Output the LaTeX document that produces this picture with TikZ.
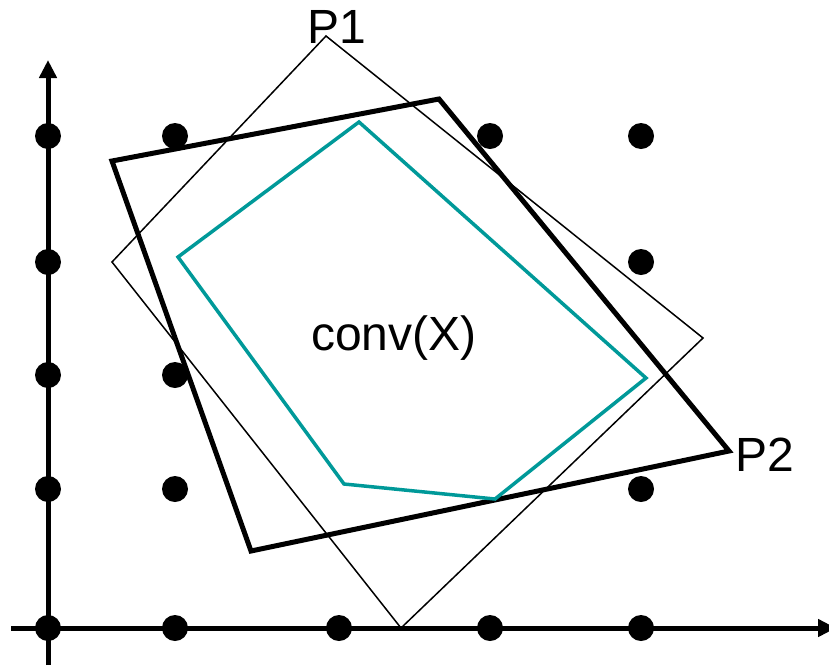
\documentclass[tikz,border=0pt]{standalone}
\usepackage{fontspec}
\setmainfont{Liberation Sans}
\usetikzlibrary{arrows.meta}
\definecolor{tealline}{RGB}{0,153,153}
\begin{document}
\begin{tikzpicture}[x=1pt,y=-1pt,
  axis/.style={line width=5pt,-{Triangle[length=18pt,width=17pt]}},
  dot/.style={circle,fill=black,inner sep=0pt,minimum size=26pt},
  thinpoly/.style={line width=1.5pt,line join=miter},
  thickpoly/.style={line width=5pt,line join=miter},
  convpoly/.style={line width=3.5pt,draw=tealline,line join=miter},
  lab/.style={inner sep=0pt,font=\fontsize{48pt}{56pt}\selectfont}]
\useasboundingbox (0,0) rectangle (829,665);
% axes
\coordinate (yb) at (48,665);
\coordinate (yt) at (48,60);
\coordinate (xl) at (11,628);
\coordinate (xr) at (836,628);
\draw[axis] (yb) -- (yt);
\draw[axis] (xl) -- (xr);
% lattice points
\node[dot] (d1) at (48,136) {};
\node[dot] (d2) at (175,136) {};
\node[dot] (d3) at (490,136) {};
\node[dot] (d4) at (641,136) {};
\node[dot] (d5) at (48,262) {};
\node[dot] (d6) at (641,262) {};
\node[dot] (d7) at (48,375) {};
\node[dot] (d8) at (175,375) {};
\node[dot] (d9) at (48,489) {};
\node[dot] (d10) at (175,489) {};
\node[dot] (d11) at (641,489) {};
\node[dot] (d12) at (48,628) {};
\node[dot] (d13) at (175,628) {};
\node[dot] (d14) at (339,628) {};
\node[dot] (d15) at (490,628) {};
\node[dot] (d16) at (641,628) {};
% P1
\coordinate (p1a) at (326,36);
\coordinate (p1b) at (703,338);
\coordinate (p1c) at (401,628);
\coordinate (p1d) at (112,262);
\draw[thinpoly] (p1a) -- (p1b) -- (p1c) -- (p1d) -- cycle;
% P2
\coordinate (p2a) at (112,161);
\coordinate (p2b) at (439,99);
\coordinate (p2c) at (729,451);
\coordinate (p2d) at (251,551);
\draw[thickpoly] (p2a) -- (p2b) -- (p2c) -- (p2d) -- cycle;
% conv(X)
\coordinate (c1) at (359,122);
\coordinate (c2) at (646,378);
\coordinate (c3) at (495,499);
\coordinate (c4) at (344,484);
\coordinate (c5) at (178,257);
\draw[convpoly] (c1) -- (c2) -- (c3) -- (c4) -- (c5) -- cycle;
% labels
\node[lab,anchor=base west] (lp1) at (307,43) {P1};
\node[lab,anchor=base west] (lp2) at (735,471) {P2};
\node[lab,anchor=base west] (lconv) at (311,350) {conv(X)};
\end{tikzpicture}
\end{document}
